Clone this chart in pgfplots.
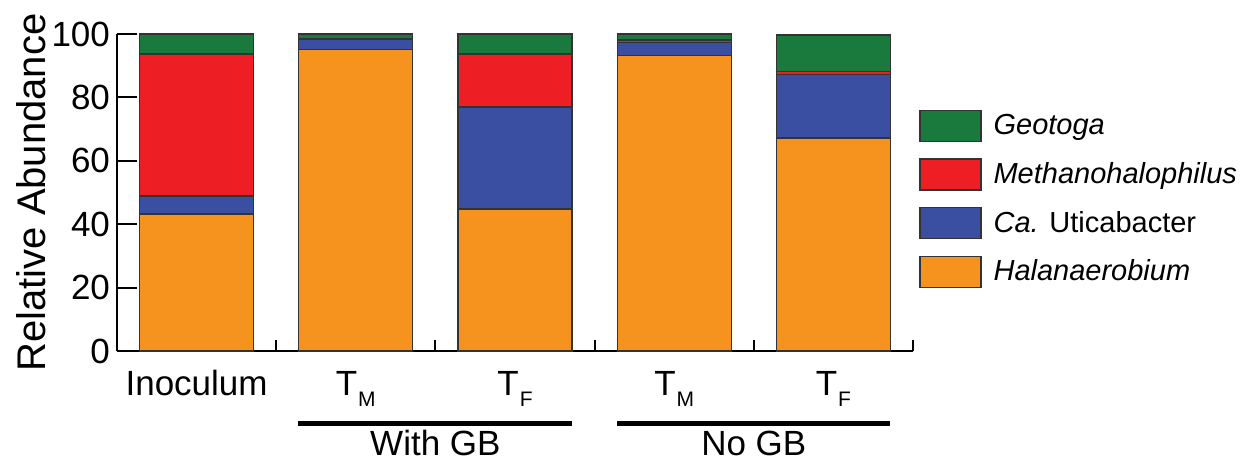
\documentclass[border=0pt]{standalone}
\usepackage{fontspec}
\setmainfont{Liberation Sans}
\usepackage{pgfplots}
\pgfplotsset{compat=1.18}
\definecolor{cGeo}{HTML}{1A7A3E}
\definecolor{cMet}{HTML}{ED1F24}
\definecolor{cUti}{HTML}{3A4EA2}
\definecolor{cHal}{HTML}{F6921E}
\newcommand{\Tsub}[1]{{\fontsize{17.5}{20}\selectfont T\kern0.5pt\raisebox{-5.5pt}{\fontsize{10.5}{12}\selectfont #1}}}
\begin{document}
\begin{tikzpicture}
\useasboundingbox (0,0) rectangle (627pt,231.5pt);
\begin{axis}[
  at={(58.5pt,56pt)}, anchor=south west,
  scale only axis, width=398pt, height=158.5pt,
  xmin=-0.5, xmax=4.5, ymin=0, ymax=100,
  ybar stacked, bar width=57pt,
  axis x line*=bottom, axis y line*=left,
  axis line style={line width=1pt, black, -},
  tick align=inside,
  major tick length=10pt, minor tick length=5.5pt,
  tick style={black, line width=1pt},
  xtick={0,1,2,3,4},
  xticklabels={Inoculum, \Tsub{M}, \Tsub{F}, \Tsub{M}, \Tsub{F}},
  major x tick style={draw=none},
  minor xtick={0.5,1.5,2.5,3.5,4.5},
  xticklabel style={font=\fontsize{17.5}{20}\selectfont, anchor=base, yshift=-22pt},
  ytick={0,20,40,60,80,100},
  /pgf/number format/assume math mode=true,
  yticklabel style={font=\fontsize{17.5}{20}\selectfont},
  ylabel={Relative Abundance},
  ylabel style={at={(axis description cs:-0.108,0.5)}, anchor=center, font=\fontsize{20}{24}\selectfont},
  clip=false,
  reverse legend,
  legend image code/.code={\draw[#1, draw=black!80, line width=0.6pt] (0pt,-7.75pt) rectangle (30.5pt,7.75pt);},
  legend style={at={(axis description cs:1.0075,0.48)}, anchor=west, draw=none, fill=none, inner sep=0pt, row sep=8.25pt, column sep=6pt, font=\fontsize{14.5}{17}\selectfont, nodes={inner sep=0pt}},
  legend cell align=left,
]
\addplot[fill=cHal, draw=black!80, line width=0.6pt] coordinates {(0,43.2) (1,95.0) (2,44.8) (3,93.1) (4,67.2)};
\addlegendentry{\textit{Halanaerobium}}
\addplot[fill=cUti, draw=black!80, line width=0.6pt] coordinates {(0,5.7) (1,3.4) (2,32.2) (3,4.1) (4,20.1)};
\addlegendentry{\textit{Ca.} Uticabacter}
\addplot[fill=cMet, draw=black!80, line width=0.6pt] coordinates {(0,44.8) (1,0.3) (2,16.7) (3,0.9) (4,0.8)};
\addlegendentry{\textit{Methanohalophilus}}
\addplot[fill=cGeo, draw=black!80, line width=0.6pt] coordinates {(0,6.3) (1,1.3) (2,6.3) (3,1.9) (4,11.6)};
\addlegendentry{\textit{Geotoga}}
\draw[line width=2.5pt] (axis cs:0.637,-23) -- (axis cs:2.358,-23);
\draw[line width=2.5pt] (axis cs:2.641,-23) -- (axis cs:4.356,-23);
\node[anchor=base, font=\fontsize{17.5}{20}\selectfont] at (axis cs:1.5,-33.1) {With GB};
\node[anchor=base, font=\fontsize{17.5}{20}\selectfont] at (axis cs:3.5,-33.1) {No GB};
\end{axis}
\end{tikzpicture}
\end{document}
